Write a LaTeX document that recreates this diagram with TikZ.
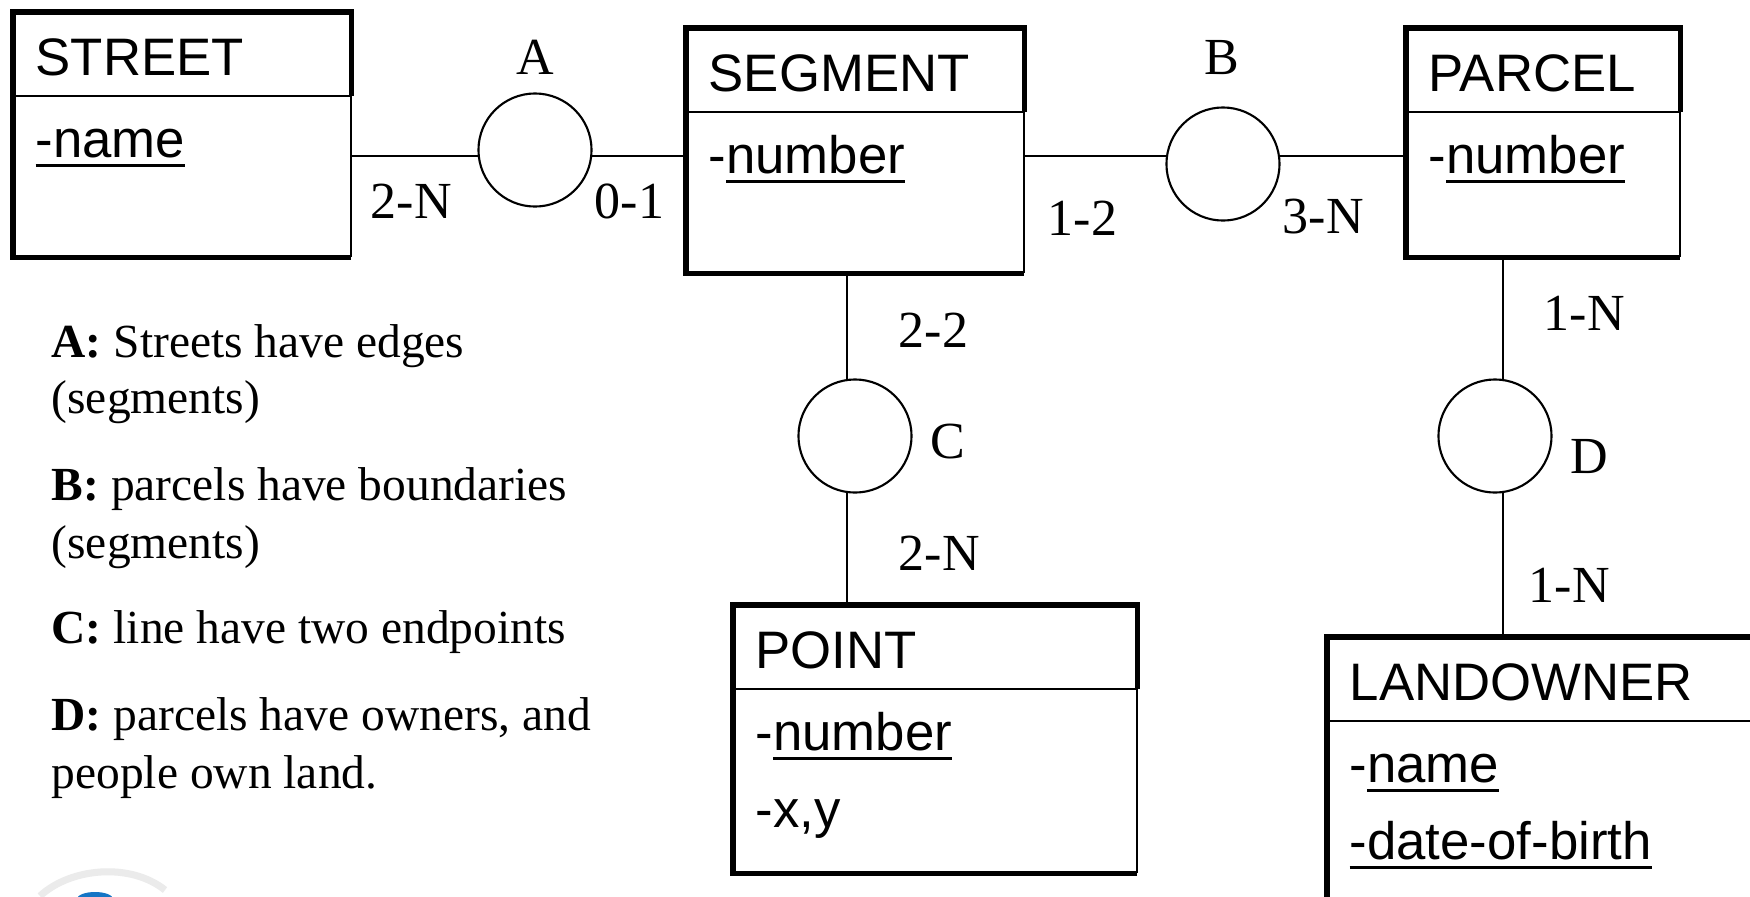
\documentclass[tikz,border=0pt]{standalone}
\usepackage{fontspec}
\setmainfont{Liberation Serif}
\setsansfont{Liberation Sans}
\usetikzlibrary{positioning, calc}

\newcommand{\ulattr}[1]{\setbox0\hbox{#1}\rlap{\rule[-0.19em]{\wd0}{0.055em}}\box0}

\tikzset{
  entity/.style={draw=none, inner sep=0pt, outer sep=0pt, anchor=north west},
  boxline/.style={line width=1.5pt},
  rowline/.style={line width=0.6pt},
  relship/.style={circle, draw, fill=white, line width=0.6pt, minimum size=1.13cm, inner sep=0pt},
  link/.style={line width=0.6pt},
  etitle/.style={anchor=base west, inner sep=0pt, font=\sffamily\fontsize{15}{18}\selectfont},
  card/.style={anchor=base west, inner sep=0pt, font=\fontsize{14.8}{17}\selectfont},
  legend/.style={anchor=base west, inner sep=0pt, font=\fontsize{13.5}{16}\selectfont},
}

\begin{document}
\begin{tikzpicture}[x=0.01cm, y=-0.01cm]
  \useasboundingbox (0,0) rectangle (1750,896);
  \fill[white] (0,0) rectangle (1750,896);
  \clip (0,0) rectangle (1750,896);

  % entity boxes
  \node[entity, minimum width=3.38cm, minimum height=2.45cm] (street) at (13,12) {};
  \node[entity, minimum width=3.38cm, minimum height=2.45cm] (segment) at (686,28) {};
  \node[entity, minimum width=2.74cm, minimum height=2.29cm] (parcel) at (1406,28) {};
  \node[entity, minimum width=4.04cm, minimum height=2.68cm] (point) at (733,605) {};
  \node[entity, minimum width=5cm, minimum height=3cm] (owner) at (1327,637) {};

  \foreach \e in {street, segment, parcel, point, owner} {
    \draw[rowline] ($(\e.north west)+(0,84)$) -- ($(\e.north east)+(0,84)$);
    \draw[rowline] ($(\e.north east)+(0,84)$) -- (\e.south east);
    \draw[boxline] (\e.south east) -| (\e.north west) -| ($(\e.north east)+(0,84)$);
  }

  % titles and attributes
  \node[etitle] (street-t) at ($(street.north west)+(22,63)$) {STREET};
  \node[etitle] (street-a) at ($(street.north west)+(22,145)$) {\ulattr{-name}};
  \node[etitle] (segment-t) at ($(segment.north west)+(22,63)$) {SEGMENT};
  \node[etitle] (segment-a) at ($(segment.north west)+(22,145)$) {-\ulattr{number}};
  \node[etitle] (parcel-t) at ($(parcel.north west)+(22,63)$) {PARCEL};
  \node[etitle] (parcel-a) at ($(parcel.north west)+(22,145)$) {-\ulattr{number}};
  \node[etitle] (point-t) at ($(point.north west)+(22,63)$) {POINT};
  \node[etitle] (point-a) at ($(point.north west)+(22,145)$) {-\ulattr{number}};
  \node[etitle] (point-b) at ($(point.north west)+(22,222)$) {-x,y};
  \node[etitle] (owner-t) at ($(owner.north west)+(22,63)$) {LANDOWNER};
  \node[etitle] (owner-a) at ($(owner.north west)+(22,145)$) {-\ulattr{name}};
  \node[etitle] (owner-b) at ($(owner.north west)+(22,222)$) {\ulattr{-date-of-birth}};

  % connectors run behind the circles
  \coordinate (lineA) at (535,156);
  \coordinate (lineB) at (1223,156);
  \coordinate (lineC) at (847,436);
  \coordinate (lineD) at (1503,436);
  \draw[link] (street.east |- lineA) -- (segment.west |- lineA);
  \draw[link] (segment.east |- lineB) -- (parcel.west |- lineB);
  \draw[link] (lineC |- segment.south) -- (lineC |- point.north);
  \draw[link] (lineD |- parcel.south) -- (lineD |- owner.north);

  % relationships
  \node[relship] (relA) at (535,150) {};
  \node[relship] (relB) at (1223,164) {};
  \node[relship] (relC) at (855,436) {};
  \node[relship] (relD) at (1495,436) {};

  % names and cardinalities
  \node[card] (nameA) at (516,74) {A};
  \node[card] (nameB) at (1204,74) {B};
  \node[card] (nameC) at (930,458) {C};
  \node[card] (nameD) at (1570,473) {D};
  \node[card] (cardA1) at (370,218) {2-N};
  \node[card] (cardA2) at (594,218) {0-1};
  \node[card] (cardB1) at (1047,235) {1-2};
  \node[card] (cardB2) at (1282,233) {3-N};
  \node[card] (cardC1) at (898,347) {2-2};
  \node[card] (cardC2) at (898,570) {2-N};
  \node[card] (cardD1) at (1543,330) {1-N};
  \node[card] (cardD2) at (1528,602) {1-N};

  % legend
  \foreach \y/\txt [count=\i] in {357/{\textbf{A:} Streets have edges}, 413/{(segments)},
      500/{\textbf{B:} parcels have boundaries}, 558/{(segments)},
      643/{\textbf{C:} line have two endpoints},
      730/{\textbf{D:} parcels have owners, and}, 788/{people own land.}}
    \node[legend] (leg\i) at (51,\y) {\txt};

  % cut-off logo
  \draw[black!8, line width=2pt] (40,896) .. controls (70,868) and (130,862) .. (165,890);
  \fill[cyan!55!blue] (95,899) ellipse [x radius=0.18cm, y radius=0.07cm];
\end{tikzpicture}
\end{document}
